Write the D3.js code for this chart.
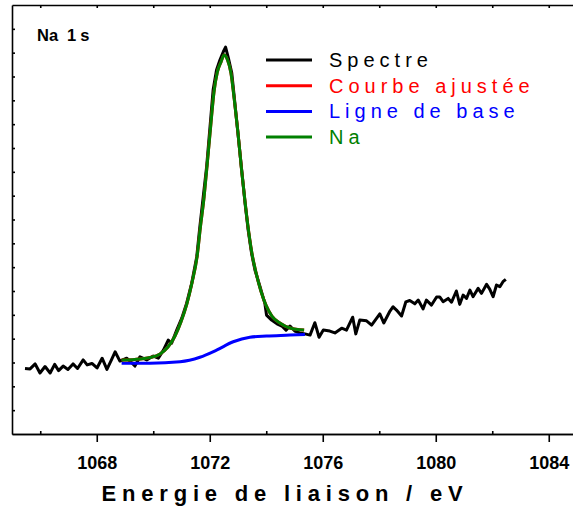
<!DOCTYPE html>
<html>
<head>
<meta charset="utf-8">
<script src="https://cdn.jsdelivr.net/npm/d3@7"></script>
<style>
  body { margin: 0; background: #fff; }
  svg { display: block; }
  text { font-family: "Liberation Sans", Arial, sans-serif; }
</style>
</head>
<body>
<div id="chart"></div>
<script>
// Na 1s spectrum (binding energy in eV, intensity in arbitrary units)
const energy = [1065.46, 1065.64, 1065.82, 1065.99, 1066.17, 1066.35, 1066.51, 1066.65, 1066.81, 1066.98,
  1067.16, 1067.32, 1067.52, 1067.66, 1067.83, 1068.01, 1068.19, 1068.36, 1068.52, 1068.65,
  1068.82, 1069.06, 1069.21, 1069.35, 1069.53, 1069.77, 1070.00, 1070.18, 1070.36, 1070.53,
  1070.65, 1070.83, 1071.01, 1071.18, 1071.36, 1071.54, 1071.65, 1071.77, 1071.89, 1072.01,
  1072.12, 1072.24, 1072.36, 1072.48, 1072.56, 1072.66, 1072.78, 1072.89, 1073.01, 1073.13,
  1073.25, 1073.36, 1073.48, 1073.60, 1073.78, 1073.95, 1074.01, 1074.19, 1074.38, 1074.55,
  1074.70, 1074.84, 1075.01, 1075.19, 1075.37, 1075.55, 1075.72, 1075.87, 1076.02, 1076.25,
  1076.43, 1076.67, 1076.84, 1077.06, 1077.17, 1077.31, 1077.55, 1077.73, 1078.02, 1078.16,
  1078.38, 1078.49, 1078.61, 1078.79, 1078.94, 1079.08, 1079.26, 1079.38, 1079.55, 1079.67,
  1079.85, 1080.03, 1080.14, 1080.26, 1080.44, 1080.56, 1080.73, 1080.85, 1080.97, 1081.09,
  1081.21, 1081.32, 1081.50, 1081.62, 1081.80, 1081.91, 1082.03, 1082.15, 1082.27, 1082.38,
  1082.48];
const spectre = [2.75, 2.73, 2.94, 2.56, 2.83, 2.56, 2.92, 2.66, 2.85, 2.71,
  2.94, 2.75, 3.11, 2.90, 2.96, 2.77, 3.18, 2.71, 3.11, 3.45,
  3.06, 3.18, 3.02, 2.85, 3.24, 3.11, 3.27, 3.18, 3.52, 3.94,
  3.81, 4.36, 4.86, 5.48, 6.32, 7.44, 8.70, 9.96, 11.22, 12.90,
  14.44, 15.27, 15.69, 16.04, 16.23, 15.77, 15.14, 13.88, 12.48, 11.08,
  9.68, 8.56, 7.58, 6.88, 6.18, 5.48, 4.99, 4.78, 4.62, 4.53,
  4.36, 4.53, 4.32, 4.24, 4.20, 4.15, 4.67, 4.06, 4.36, 4.32,
  4.24, 4.44, 4.36, 4.90, 4.20, 4.78, 4.75, 4.57, 5.04, 4.66,
  5.16, 5.34, 5.20, 4.95, 5.54, 5.60, 5.46, 5.62, 5.25, 5.62,
  5.41, 5.75, 5.75, 5.55, 5.69, 5.53, 6.00, 5.44, 5.83, 5.69,
  6.04, 5.76, 6.11, 5.90, 6.28, 6.08, 5.76, 6.25, 6.18, 6.39,
  6.49];

// fitted envelope (single Na component, so the Na curve coincides with it)
const fitEnergy = [1068.88, 1069.35, 1069.89, 1070.24, 1070.52, 1070.77, 1070.98, 1071.19, 1071.37, 1071.55,
  1071.67, 1071.80, 1071.90, 1072.03, 1072.15, 1072.27, 1072.40, 1072.51, 1072.63, 1072.75,
  1072.87, 1073.00, 1073.12, 1073.25, 1073.37, 1073.49, 1073.64, 1073.81, 1073.99, 1074.20,
  1074.48, 1074.84, 1075.34];
const fitted = [3.11, 3.13, 3.21, 3.36, 3.65, 4.11, 4.70, 5.46, 6.34, 7.43,
  8.69, 9.95, 11.20, 12.88, 14.35, 15.19, 15.61, 15.90, 15.69, 15.15,
  14.02, 12.63, 11.16, 9.74, 8.56, 7.60, 6.76, 6.00, 5.41, 4.95,
  4.66, 4.45, 4.36];
const naComp = [3.11, 3.13, 3.21, 3.36, 3.65, 4.11, 4.70, 5.46, 6.34, 7.43,
  8.69, 9.95, 11.20, 12.88, 14.35, 15.19, 15.61, 15.90, 15.69, 15.15,
  14.02, 12.63, 11.16, 9.74, 8.56, 7.60, 6.76, 6.00, 5.41, 4.95,
  4.66, 4.45, 4.36];

// Shirley-type background
const baseEnergy = [1068.88, 1069.89, 1070.95, 1071.65, 1072.24, 1072.83, 1073.42, 1074.01, 1074.84, 1075.37];
const baseline = [2.97, 2.97, 3.03, 3.22, 3.52, 3.87, 4.06, 4.11, 4.15, 4.18];

const majorTicks = [1068, 1072, 1076, 1080, 1084];
const minorTicks = [1066, 1070, 1074, 1078, 1082];
const topTicks = [1066, 1068, 1070, 1072, 1074, 1076, 1078, 1080, 1082, 1084];
const yTicks = d3.range(1, 18);

const legendLabels = ['Spectre', 'Courbe ajustée', 'Ligne de base', 'Na'];
const legendColors = ['#000000', '#ff0000', '#0000ff', '#008000'];

const W = 573, H = 511;
const x = d3.scaleLinear().domain([1065, 1085]).range([12, 577]);
const y = d3.scaleLinear().domain([0, 18]).range([434, 5]);

const svg = d3.select('#chart').append('svg')
  .attr('width', W)
  .attr('height', H);

svg.append('rect').attr('width', W).attr('height', H).attr('fill', '#fff');

// frame + ticks
const gB = svg.append('g').attr('transform', `translate(0,${y(0)})`)
  .call(d3.axisBottom(x).tickValues(majorTicks).tickSize(8).tickSizeOuter(0).tickFormat(d3.format('d')));
const gBm = svg.append('g').attr('transform', `translate(0,${y(0)})`)
  .call(d3.axisBottom(x).tickValues(minorTicks).tickSize(-3).tickSizeOuter(0).tickFormat(''));
const gT = svg.append('g').attr('transform', `translate(0,${y(18)})`)
  .call(d3.axisTop(x).tickValues(topTicks).tickSize(-3).tickSizeOuter(0).tickFormat(''));
const gL = svg.append('g').attr('transform', `translate(${x(1065)},0)`)
  .call(d3.axisLeft(y).tickValues(yTicks).tickSize(-3).tickSizeOuter(0).tickFormat(''));

[gB, gBm, gT, gL].forEach(g => {
  g.selectAll('path, line').attr('stroke', '#000').attr('stroke-width', 1.6);
});
gB.selectAll('text')
  .attr('font-size', 18)
  .attr('font-weight', 'bold')
  .attr('fill', '#000')
  .attr('font-family', '"Liberation Sans", Arial, sans-serif')
  .attr('dy', null)
  .attr('y', 35);

const line = d3.line().x(d => x(d[0])).y(d => y(d[1]));
const smooth = d3.line().x(d => x(d[0])).y(d => y(d[1])).curve(d3.curveMonotoneX);

svg.append('path')
  .attr('d', line(d3.zip(energy, spectre)))
  .attr('fill', 'none').attr('stroke', legendColors[0]).attr('stroke-width', 3)
  .attr('stroke-linejoin', 'round');

svg.append('path')
  .attr('d', smooth(d3.zip(baseEnergy, baseline)))
  .attr('fill', 'none').attr('stroke', legendColors[2]).attr('stroke-width', 3);

svg.append('path')
  .attr('d', smooth(d3.zip(fitEnergy, fitted)))
  .attr('fill', 'none').attr('stroke', legendColors[1]).attr('stroke-width', 3);

svg.append('path')
  .attr('d', smooth(d3.zip(fitEnergy, naComp)))
  .attr('fill', 'none').attr('stroke', legendColors[3]).attr('stroke-width', 3);

// legend
const lg = svg.append('g');
legendLabels.forEach((l, i) => {
  const ly = 60 + i * 25.7;
  lg.append('line')
    .attr('x1', 266).attr('x2', 312)
    .attr('y1', ly).attr('y2', ly)
    .attr('stroke', legendColors[i]).attr('stroke-width', 3);
  lg.append('text')
    .attr('x', 329).attr('y', ly + 7)
    .attr('font-size', 20)
    .attr('letter-spacing', 5)
    .attr('fill', legendColors[i])
    .text(l);
});

const tag = svg.append('text')
  .attr('x', 37).attr('y', 41)
  .attr('font-size', 16.5).attr('font-weight', 'bold');
tag.append('tspan').text('Na');
tag.append('tspan').attr('dx', 9).text('1');
tag.append('tspan').attr('dx', 4).text('s');

svg.append('text')
  .attr('x', 285).attr('y', 501)
  .attr('text-anchor', 'middle')
  .attr('font-size', 22).attr('font-weight', 'bold')
  .attr('letter-spacing', 5.8)
  .text('Energie de liaison / eV');
</script>
</body>
</html>
